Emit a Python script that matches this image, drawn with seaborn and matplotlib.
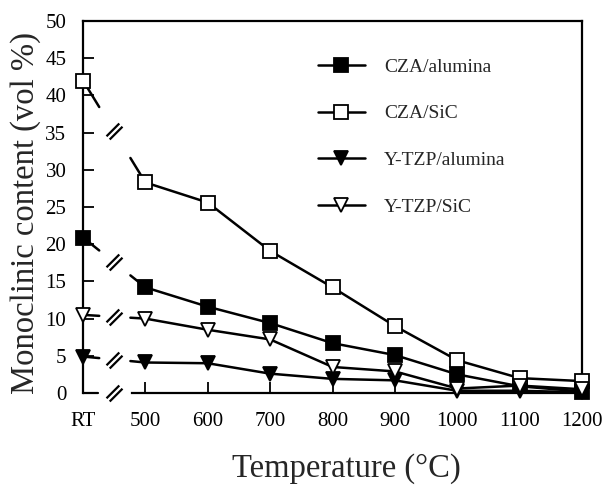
import numpy as np
import matplotlib
matplotlib.use("Agg")
import matplotlib.pyplot as plt
from matplotlib.path import Path
from matplotlib.lines import Line2D
import seaborn as sns

# ---- data ----
temp_labels = ["RT", "500", "600", "700", "800", "900", "1000", "1100", "1200"]
temp_pos = [400, 500, 600, 700, 800, 900, 1000, 1100, 1200]   # RT placed before the axis break
series_names = ["CZA/alumina", "CZA/SiC", "Y-TZP/alumina", "Y-TZP/SiC"]
cza_alumina = [20.9, 14.2, 11.6, 9.4, 6.7, 5.1, 2.5, 0.9, 0.2]
cza_sic = [42.0, 28.3, 25.6, 19.1, 14.2, 9.0, 4.4, 2.0, 1.6]
ytzp_alumina = [4.9, 4.1, 4.0, 2.6, 1.9, 1.7, 0.3, 0.3, 0.1]
ytzp_sic = [10.5, 10.0, 8.5, 7.2, 3.5, 2.9, 0.6, 1.0, 0.5]
y_ticks = [0, 5, 10, 15, 20, 25, 30, 35, 40, 45, 50]

series_vals = [cza_alumina, cza_sic, ytzp_alumina, ytzp_sic]
markers = ["s", "s", "v", "v"]
faces = ["black", "white", "black", "white"]
msizes = [9.5, 9.5, 9.5, 9.5]

sns.set_theme(style="white")
plt.rcParams["font.family"] = ["Liberation Serif", "DejaVu Serif"]

fig = plt.figure(figsize=(6.06, 4.95), dpi=100)
ax = fig.add_axes([83 / 606, 1 - 393 / 495, 499 / 606, 372 / 495])

LW = 1.8
brk_x = 450
gap = (426, 476)

# break mark marker: two parallel slashes
slash = Path([(-7.5, -4.5), (4.5, 7.5), (-4.5, -7.5), (7.5, 4.5)],
             [Path.MOVETO, Path.LINETO, Path.MOVETO, Path.LINETO])

for name, vals, mk, fc, ms in zip(series_names, series_vals, markers, faces, msizes):
    # main part of the curve (500 .. 1200)
    sns.lineplot(x=temp_pos[1:], y=vals[1:], ax=ax, color="black", linewidth=LW,
                 marker=mk, markersize=ms, markerfacecolor=fc, markeredgecolor="black",
                 markeredgewidth=1.3, clip_on=False, zorder=3)
    # RT -> 500 segment with a gap at the axis break
    x0, x1 = temp_pos[0], temp_pos[1]
    ya = np.interp(gap[0], [x0, x1], [vals[0], vals[1]])
    yb = np.interp(gap[1], [x0, x1], [vals[0], vals[1]])
    ax.plot([x0, gap[0]], [vals[0], ya], color="black", lw=LW, zorder=2, clip_on=False)
    ax.plot([gap[1], x1], [yb, vals[1]], color="black", lw=LW, zorder=2, clip_on=False)
    ax.plot([x0], [vals[0]], marker=mk, markersize=ms, markerfacecolor=fc,
            markeredgecolor="black", markeredgewidth=1.3, ls="none", clip_on=False, zorder=4)
    yb_mid = np.interp(brk_x, [x0, x1], [vals[0], vals[1]])
    ax.plot([brk_x], [yb_mid], marker=slash, markersize=11.5, markerfacecolor="none",
            markeredgecolor="black", markeredgewidth=1.6, ls="none", clip_on=False, zorder=5)

# axes limits and break on bottom axis
ax.set_xlim(400, 1200)
ax.set_ylim(0, 50)
for s in ax.spines.values():
    s.set_linewidth(1.6)
    s.set_color("black")
ax.spines["bottom"].set_bounds(478, 1200)
ax.plot([400, 424], [0, 0], color="black", lw=1.6, clip_on=False, zorder=5)
ax.plot([brk_x], [0], marker=slash, markersize=11.5, markerfacecolor="none",
        markeredgecolor="black", markeredgewidth=1.6, ls="none", clip_on=False, zorder=5)

ax.set_xticks(temp_pos)
ax.set_xticklabels(temp_labels)
ax.set_yticks(y_ticks)
ax.tick_params(axis="both", direction="in", length=8, width=1.3, labelsize=15,
               colors="black", bottom=True, left=True, top=False, right=False)
ax.tick_params(axis="x", pad=14)
ax.tick_params(axis="y", pad=12)
ax.grid(False)

ax.set_xlabel("Temperature (°C)", fontsize=23.5)
ax.set_ylabel("Monoclinic content (vol %)", fontsize=23.5)
ax.xaxis.set_label_coords(0.527, -0.162)
ax.yaxis.set_label_coords(-0.084, 0.485)

handles = [Line2D([], [], color="black", lw=LW, marker=mk, markersize=ms,
                  markerfacecolor=fc, markeredgecolor="black", markeredgewidth=1.3)
           for mk, fc, ms in zip(markers, faces, msizes)]
ax.legend(handles, series_names, loc="upper left", bbox_to_anchor=(318 / 606, 1 - 58 / 495),
          bbox_transform=fig.transFigure, frameon=False, fontsize=14, handlelength=2.4,
          handletextpad=1.0, labelspacing=1.5, borderpad=0, borderaxespad=0)

fig.savefig("out.png", dpi=100)
